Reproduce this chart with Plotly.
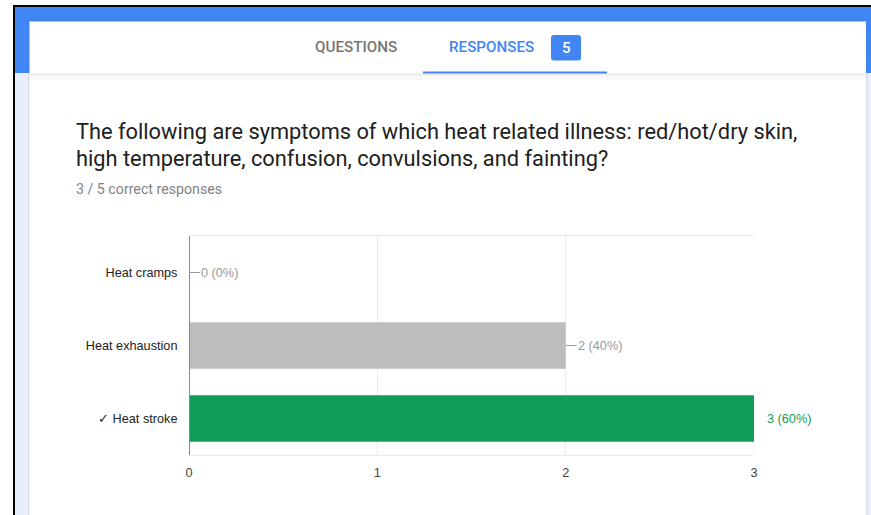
import plotly.graph_objects as go

W, H = 871, 515

# ---- data ----
categories = ["Heat cramps", "Heat exhaustion", "✓ Heat stroke"]
counts = [0, 2, 3]
percents = [0, 40, 60]
bar_colors = ["#bdbdbd", "#bdbdbd", "#0f9d58"]
label_colors = ["#9a9a9a", "#9a9a9a", "#0f9d58"]
x_ticks = [0, 1, 2, 3]

question_line1 = "The following are symptoms of which heat related illness: red/hot/dry skin,"
question_line2 = "high temperature, confusion, convulsions, and fainting?"
subtitle = "3 / 5 correct responses"
tab_left = "QUESTIONS"
tab_right = "RESPONSES"
badge = "5"

CHART_FONT = 12.7


def px(x):
    return x / W


def py(y):
    return 1 - y / H


def rect(x0, y0, x1, y1, color, line=None):
    return dict(type="rect", xref="paper", yref="paper",
                x0=px(x0), x1=px(x1), y0=py(y1), y1=py(y0),
                fillcolor=color, line=dict(width=0) if line is None else line,
                layer="below")


fig = go.Figure()

fig.add_trace(go.Bar(
    y=categories, x=counts, orientation="h",
    marker=dict(color=bar_colors, line=dict(width=0)),
    width=0.64, hoverinfo="skip", showlegend=False,
))

shapes = [
    # black border of screenshot
    rect(13, 5, W, 7, "#000000"),
    rect(13, 5, 15, H, "#000000"),
    # blue header background
    rect(15, 7, W, 73, "#4285f4"),
    # light-blue page background
    rect(15, 73, W, H, "#e8eefb"),
    # header card
    rect(29.5, 21.5, 866, 73, "#ffffff"),
    # body card edges
    rect(28, 73, 29.5, H, "rgba(0,0,0,0.07)"),
    rect(866, 73, 867.5, H, "rgba(0,0,0,0.07)"),
    rect(29.5, 73, 866, H, "#ffffff"),
    # shadow below header
    rect(29.5, 73, 866, 76, "rgba(0,0,0,0.06)"),
    rect(29.5, 76, 866, 80, "rgba(0,0,0,0.025)"),
    # active tab underline
    rect(423, 71.5, 607, 73.5, "#4285f4"),
]
# badge (rounded rect via path)
bx0, by0, bx1, by1, r = 551, 35, 581, 60.5, 3
path = (f"M {px(bx0+r)},{py(by0)} L {px(bx1-r)},{py(by0)} Q {px(bx1)},{py(by0)} {px(bx1)},{py(by0+r)} "
        f"L {px(bx1)},{py(by1-r)} Q {px(bx1)},{py(by1)} {px(bx1-r)},{py(by1)} "
        f"L {px(bx0+r)},{py(by1)} Q {px(bx0)},{py(by1)} {px(bx0)},{py(by1-r)} "
        f"L {px(bx0)},{py(by0+r)} Q {px(bx0)},{py(by0)} {px(bx0+r)},{py(by0)} Z")
shapes.append(dict(type="path", xref="paper", yref="paper", path=path,
                   fillcolor="#4285f4", line=dict(width=0), layer="below"))

annotations = [
    dict(text=tab_left, x=px(355.5), y=py(47.5), xref="paper", yref="paper",
         showarrow=False, xanchor="center", yanchor="middle",
         font=dict(family="Roboto", size=15.2, color="#757575", weight=500)),
    dict(text=tab_right, x=px(491.5), y=py(47.5), xref="paper", yref="paper",
         showarrow=False, xanchor="center", yanchor="middle",
         font=dict(family="Roboto", size=15.2, color="#4285f4", weight=500)),
    dict(text=badge, x=px(566), y=py(48), xref="paper", yref="paper",
         showarrow=False, xanchor="center", yanchor="middle",
         font=dict(family="Roboto", size=15, color="#ffffff", weight=500)),
    dict(text=question_line1, x=px(74), y=py(131), xref="paper", yref="paper",
         showarrow=False, xanchor="left", yanchor="middle",
         font=dict(family="Roboto", size=21.8, color="#202020")),
    dict(text=question_line2, x=px(74), y=py(158), xref="paper", yref="paper",
         showarrow=False, xanchor="left", yanchor="middle",
         font=dict(family="Roboto", size=21.8, color="#202020")),
    dict(text=subtitle, x=px(74), y=py(189), xref="paper", yref="paper",
         showarrow=False, xanchor="left", yanchor="middle",
         font=dict(family="Roboto", size=14.2, color="#828282")),
]

max_val = max(x_ticks)
for cat, c, p, col in zip(categories, counts, percents, label_colors):
    txt = f"{c} ({p}%)"
    if c >= max_val:
        annotations.append(dict(x=c, y=cat, xref="x", yref="y", text=txt,
                                showarrow=False, xanchor="left", xshift=11,
                                font=dict(family="Arial", size=CHART_FONT, color=col)))
    else:
        annotations.append(dict(x=c, y=cat, xref="x", yref="y", text=txt,
                                showarrow=True, arrowhead=0, arrowwidth=1,
                                arrowcolor="#9a9a9a", ax=11, ay=0,
                                xanchor="left", borderpad=0,
                                font=dict(family="Arial", size=CHART_FONT, color=col)))

fig.update_layout(
    template="none",
    width=W, height=H, autosize=False,
    margin=dict(l=0, r=0, t=0, b=0, pad=0, autoexpand=False),
    paper_bgcolor="#ffffff", plot_bgcolor="#ffffff",
    shapes=shapes, annotations=annotations,
    xaxis=dict(domain=[px(189), px(754)], range=[0, 3], automargin=False,
               tickvals=x_ticks, ticktext=[str(t) for t in x_ticks],
               showgrid=True, gridcolor="#ebebeb", gridwidth=1,
               zeroline=False, showline=True, linecolor="#ebebeb", mirror=True,
               ticks="outside", ticklen=6, tickcolor="rgba(0,0,0,0)",
               tickfont=dict(family="Arial", size=CHART_FONT, color="#444444"),
               fixedrange=True),
    yaxis=dict(domain=[py(455), py(236)], automargin=False,
               categoryorder="array", categoryarray=categories,
               autorange="reversed", showgrid=False, zeroline=False,
               showline=False,
               ticks="outside", ticklen=8, tickcolor="rgba(0,0,0,0)",
               tickfont=dict(family="Arial", size=CHART_FONT, color="#222222"),
               fixedrange=True),
    bargap=0.36,
)
# zero baseline (vertical axis at x=0)
fig.add_shape(type="line", xref="x", yref="paper", x0=0, x1=0,
              y0=py(455), y1=py(236), line=dict(color="#8a8a8a", width=2), layer="above")

fig.write_html("out.html", config={"displayModeBar": False},
               post_script="document.body.style.margin='0';document.body.style.overflow='hidden';")
